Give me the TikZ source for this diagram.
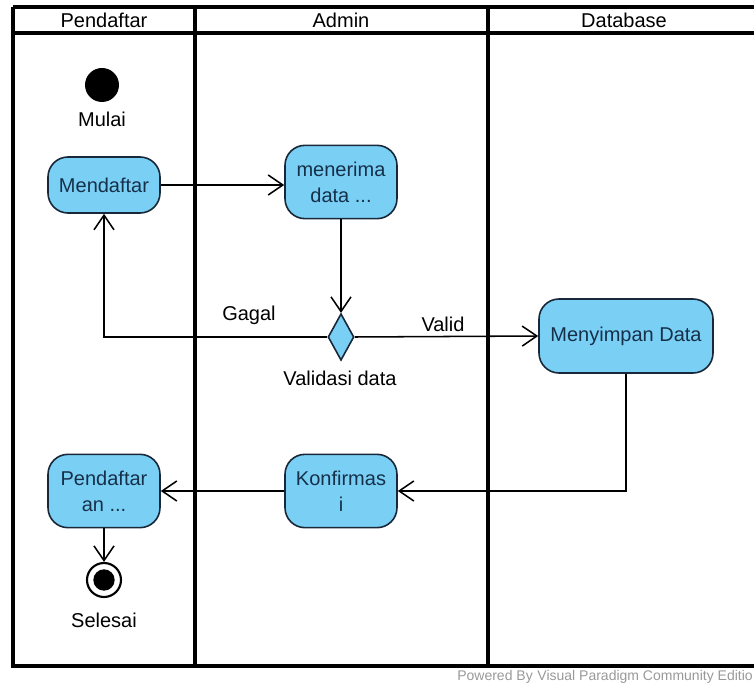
\documentclass[tikz,border=0pt]{standalone}
\usepackage{fontspec}
\setmainfont{Liberation Sans}
\usetikzlibrary{arrows.meta,shapes.geometric,calc}
\definecolor{actfill}{RGB}{122,207,245}
\definecolor{actline}{RGB}{24,40,56}
\definecolor{acttext}{RGB}{22,48,74}
\begin{document}
\begin{tikzpicture}[x=0.75pt,y=-0.75pt,
  lane/.style={line width=2.4pt,black},
  action/.style={draw=actline,line width=1.2pt,fill=actfill,rounded corners=15pt,
    align=center,text=acttext,font=\fontsize{15}{19.5}\selectfont,inner sep=2pt},
  decision/.style={diamond,draw=actline,line width=1.2pt,fill=actfill,inner sep=0pt,
    minimum width=19.5pt,minimum height=35pt},
  label/.style={font=\fontsize{15}{18}\selectfont,text=black},
  flow/.style={line width=1.15pt,-{Straight Barb[length=11pt,width=15pt,line width=1.15pt]}},
  head/.style={font=\fontsize{15}{18}\selectfont}]
\useasboundingbox (0,0) rectangle (754,688);
\clip (0,0) rectangle (754,688);

% swimlane frame
\draw[lane] (13,7) -- (770,7);
\draw[lane] (13,33) -- (770,33);
\draw[lane] (13,7) -- (13,666) -- (770,666);
\draw[lane] (195,7) -- (195,666);
\draw[lane] (488,7) -- (488,666);
\node[head] (hP) at (104,20) {Pendaftar};
\node[head] (hA) at (341,20) {Admin};
\node[head] (hD) at (624,20) {Database};

% start
\node[circle,fill=black,minimum size=25.5pt,inner sep=0pt] (start) at (102,85) {};
\node[label] (lstart) at (102,119) {Mulai};

% actions
\node[action,minimum width=84pt,minimum height=42pt] (daftar) at (104,185) {Mendaftar};
\node[action,minimum width=84pt,minimum height=55pt] (terima) at (341,182) {menerima\\data ...};
\node[decision] (valid) at (341,337) {};
\node[label] (lvalid) at (340,378) {Validasi data};
\node[action,minimum width=130.5pt,minimum height=55.5pt] (simpan) at (626,336) {Menyimpan Data};
\node[action,minimum width=84pt,minimum height=55pt] (konf) at (341,491) {Konfirmas\\i};
\node[action,minimum width=84pt,minimum height=55pt] (hasil) at (104,491) {Pendaftar\\an ...};

% end
\node[circle,draw=black,line width=1.6pt,fill=white,minimum size=25.5pt,inner sep=0pt] (end) at (104,580) {};
\node[circle,fill=black,minimum size=16pt,inner sep=0pt] (endin) at (end) {};
\node[label] (lend) at (104,620) {Selesai};

% flows
\draw[flow] (daftar.east) -- (daftar.east -| terima.west);
\draw[flow] (terima.south) -- (valid.north);
\draw[flow] (valid.west) -| (daftar.south);
\draw[flow] (valid.east) -- (simpan.west);
\draw[flow] (simpan.south) |- (konf.east);
\draw[flow] (konf.west) -- (hasil.east);
\draw[flow] (hasil.south) -- (end.north);
\node[label] (lgagal) at (249,315) {Gagal};
\node[label] (lok) at (443,324) {Valid};

% footer
\node[anchor=east,text=black!40,font=\fontsize{10.5}{12}\selectfont,inner sep=0pt] (foot) at (753,677)
  {Powered By\,\,Visual Paradigm Community Editio};
\end{tikzpicture}
\end{document}
